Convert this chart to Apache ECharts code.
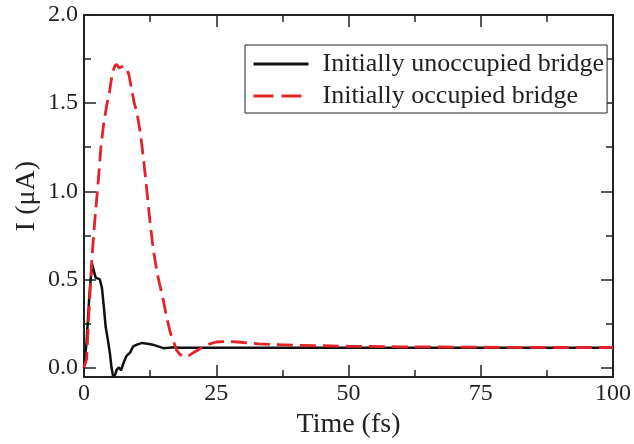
<!DOCTYPE html>
<html><head><meta charset="utf-8">
<script src="https://cdn.jsdelivr.net/npm/echarts@6/dist/echarts.min.js"></script>
<style>html,body{margin:0;padding:0;background:#fff}#c{width:634px;height:444px}</style>
</head><body><div id="c"></div>
<script>
// Data
const tUnocc = [0,0.5,1.0,1.5,1.8,2.2,3.0,3.4,3.7,4.1,4.5,4.9,5.2,5.5,5.9,6.2,6.6,7.0,7.4,8.0,8.7,9.3,10.0,11.0,12.0,13.0,14.0,15.0,16.0,17.0,18,20,25,30,40,50,60,75,90,100];
const iUnocc = [0,0.15,0.40,0.59,0.58,0.51,0.50,0.45,0.36,0.23,0.16,0.08,0.0,-0.05,-0.04,-0.01,0.0,-0.015,0.02,0.065,0.085,0.12,0.13,0.14,0.135,0.13,0.12,0.11,0.112,0.115,0.113,0.112,0.113,0.113,0.113,0.113,0.113,0.113,0.113,0.113];
const tOcc = [0,0.5,1.0,1.5,2.0,2.7,3.2,3.7,4.3,4.8,5.3,5.8,6.2,6.6,7.0,7.5,8.0,8.5,9.0,9.5,10.0,10.7,11.3,11.9,12.5,13.1,13.8,14.4,15.0,15.6,16.3,16.9,17.5,18.1,19.0,19.8,20.7,21.6,22.6,23.8,25,27,29,31,33,36,40,45,50,60,70,80,90,100];
const iOcc = [0,0.05,0.35,0.62,0.82,1.06,1.25,1.38,1.49,1.56,1.66,1.71,1.72,1.70,1.705,1.71,1.70,1.66,1.58,1.50,1.45,1.32,1.17,1.0,0.82,0.67,0.54,0.46,0.38,0.29,0.20,0.15,0.10,0.075,0.06,0.068,0.085,0.10,0.12,0.135,0.145,0.148,0.145,0.14,0.135,0.13,0.127,0.124,0.121,0.118,0.116,0.115,0.114,0.114];
const seriesNames = ['Initially unoccupied bridge','Initially occupied bridge'];
const xTicks = [0,25,50,75,100];
const yTicks = [0,0.5,1.0,1.5,2.0];
const yMinorTicks = [0.25,0.75,1.25,1.75];

const font = 'Liberation Serif';
const axisCol = '#222';
const yMin = -0.054, yMax = 2.0;
function yAxisDef(pos, vals, len, labels, line) {
  return {
    type:'value', position:pos, min:yMin, max:yMax,
    axisLine:{show:line, lineStyle:{color:axisCol,width:2}},
    axisTick:{show:true, inside:true, length:len, customValues:vals, lineStyle:{color:axisCol,width:1.5}},
    axisLabel:{show:labels, customValues:vals, formatter:v=>v.toFixed(1), fontFamily:font, fontSize:24, color:'#222', margin:6},
    splitLine:{show:false},
    name: labels ? 'I (\u03BCA)' : '', nameLocation:'middle', nameGap:43, nameMoveOverlap:false,
    nameTextStyle:{fontFamily:font, fontSize:28, color:'#222'}
  };
}
function xAxisDef(pos, labels) {
  return {
    type:'value', position:pos, min:xTicks[0], max:xTicks[xTicks.length-1], interval:25,
    axisLine:{show:true, onZero:false, lineStyle:{color:axisCol,width:2}},
    axisTick:{show:true, inside:true, length:12, lineStyle:{color:axisCol,width:1.5}},
    minorTick:{show:true, splitNumber:2, length:7, lineStyle:{color:axisCol,width:1.5}},
    axisLabel:{show:labels, fontFamily:font, fontSize:24, color:'#222', margin:5},
    splitLine:{show:false},
    name: labels ? 'Time (fs)' : '', nameLocation:'middle', nameGap:28,
    nameTextStyle:{fontFamily:font, fontSize:28, color:'#222'}
  };
}
const chart = echarts.init(document.getElementById('c'), null, {renderer:'canvas'});
chart.setOption({
  animation:false,
  backgroundColor:'#fff',
  grid:{left:84, right:21, top:15, bottom:61},
  xAxis:[xAxisDef('bottom', true), xAxisDef('top', false)],
  yAxis:[
    yAxisDef('left', yTicks, 12, true, true),
    yAxisDef('left', yMinorTicks, 7, false, false),
    yAxisDef('right', yTicks, 12, false, true),
    yAxisDef('right', yMinorTicks, 7, false, false)
  ],
  legend:{
    left:245, top:45, orient:'vertical',
    padding:[6,3,4,7], itemGap:6, itemWidth:55, itemHeight:24,
    borderColor:'#222', borderWidth:1, backgroundColor:'#fff',
    itemStyle:{opacity:0},
    textStyle:{fontFamily:font, fontSize:26, lineHeight:24, color:'#222', padding:[0,0,0,9]},
    data:[
      {name:seriesNames[0], itemStyle:{opacity:0}, lineStyle:{width:3}},
      {name:seriesNames[1], itemStyle:{opacity:0}, lineStyle:{type:[20,8], width:3}}
    ]
  },
  series:[
    {name:seriesNames[0], type:'line', xAxisIndex:0, yAxisIndex:0, symbol:'none', smooth:false,
     lineStyle:{color:'#111', width:2.5}, itemStyle:{color:'#111'},
     data:tUnocc.map((t,i)=>[t,iUnocc[i]])},
    {name:seriesNames[1], type:'line', xAxisIndex:0, yAxisIndex:0, symbol:'none', smooth:false,
     lineStyle:{color:'#e52229', width:2.8, type:[16,7]}, itemStyle:{color:'#e52229'},
     data:tOcc.map((t,i)=>[t,iOcc[i]])}
  ]
});
</script></body></html>
